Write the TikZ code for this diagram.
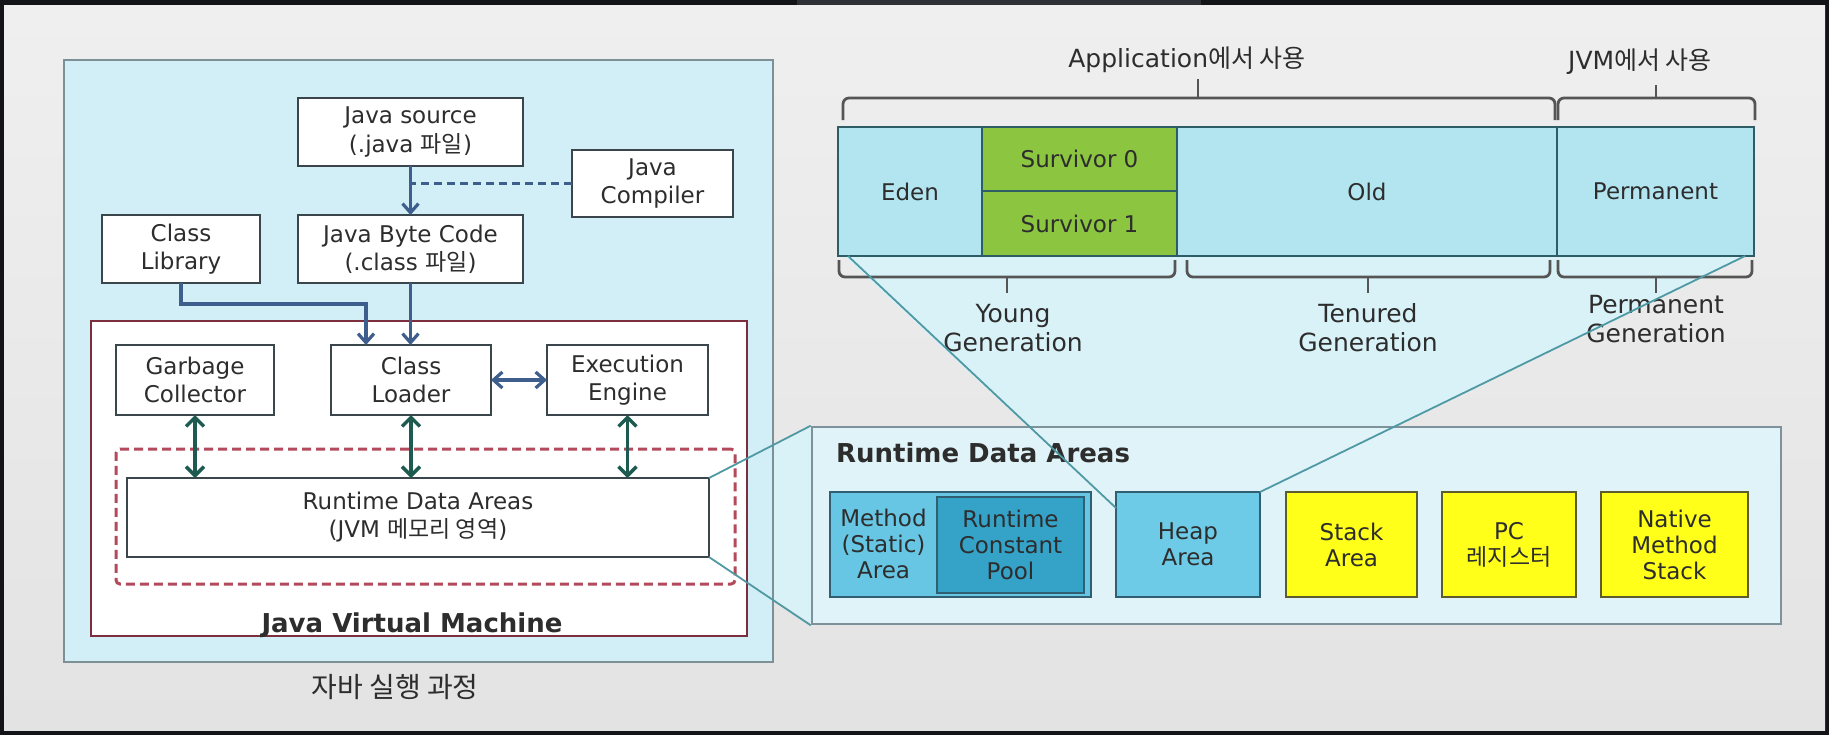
\documentclass[tikz,border=0pt]{standalone}
\usepackage{fontspec}
\setmainfont{DejaVu Sans}
\newfontfamily\kr{Noto Sans CJK KR}
\usetikzlibrary{arrows.meta,calc}

\definecolor{frame}{HTML}{121418}
\definecolor{topseg}{HTML}{2E3136}
\definecolor{bgtop}{HTML}{EFEFEF}
\definecolor{bgbot}{HTML}{E3E3E3}
\definecolor{outerf}{HTML}{D2EFF7}
\definecolor{outerb}{HTML}{7D9096}
\definecolor{boxb}{HTML}{3B464C}
\definecolor{txt}{HTML}{2D2D2D}
\definecolor{jvmb}{HTML}{7C2E3C}
\definecolor{dashr}{HTML}{B34A5C}
\definecolor{arrb}{HTML}{3E5E8E}
\definecolor{arrt}{HTML}{1D5A50}
\definecolor{cyanc}{HTML}{B3E5F1}
\definecolor{greenc}{HTML}{8CC53F}
\definecolor{barb}{HTML}{2E5D66}
\definecolor{funf}{HTML}{D9F2F8}
\definecolor{funl}{HTML}{4F99A4}
\definecolor{rdabf}{HTML}{E0F3F8}
\definecolor{rdabb}{HTML}{7E9399}
\definecolor{methodf}{HTML}{66C6E3}
\definecolor{rcpf}{HTML}{35A2C8}
\definecolor{heapf}{HTML}{6ECBE7}
\definecolor{lbb}{HTML}{2F5F70}
\definecolor{yel}{HTML}{FFFF1A}
\definecolor{yelb}{HTML}{5C5C2E}
\definecolor{bracec}{HTML}{555555}

\newcommand\mybox[7]{%
  \pgfmathsetmacro\mbw{(#4-#2)*0.5}%
  \pgfmathsetmacro\mbh{(#5-#3)*0.5}%
  \node[#6, minimum width=\mbw pt, minimum height=\mbh pt] (#1) at ({(#2+#4)/2},{(#3+#5)/2}) {#7};%
}

\tikzset{
  lbl/.style={font=\fontsize{11.5}{14}\selectfont, text=txt, align=center, inner sep=0pt, outer sep=0pt},
  lowlbl/.style={font=\fontsize{11.5}{13}\selectfont, text=txt, align=center, inner sep=0pt, outer sep=0pt},
  biglbl/.style={font=\fontsize{12.5}{14.5}\selectfont, text=txt, align=center, inner sep=0pt},
  wbox/.style={lbl, draw=boxb, line width=1.3pt, fill=white},
  barcell/.style={lbl, draw=barb, line width=1.3pt, fill=cyanc},
  greencell/.style={lbl, draw=barb, line width=1.3pt, fill=greenc},
  ybox/.style={lowlbl, draw=yelb, line width=1.3pt, fill=yel},
  barr/.style={draw=arrb, line width=1.6pt, -{Straight Barb[length=4.5pt,width=8pt]}},
  barr2/.style={draw=arrb, line width=1.6pt, {Straight Barb[length=4.5pt,width=8pt]}-{Straight Barb[length=4.5pt,width=8pt]}},
  tarr/.style={draw=arrt, line width=1.7pt, {Straight Barb[length=4.5pt,width=9pt]}-{Straight Barb[length=4.5pt,width=9pt]}},
  dashc/.style={draw=arrb, line width=1.5pt, dash pattern=on 4pt off 2.5pt},
  bracel/.style={draw=bracec, line width=1.4pt, rounded corners=3pt},
  funline/.style={draw=funl, line width=0.9pt},
}

\begin{document}
\begin{tikzpicture}[x=0.5pt,y=-0.5pt]
\useasboundingbox (0,0) rectangle (1829,735);
% screen frame and background
\fill[frame] (0,0) rectangle (1829,735);
\fill[topseg] (797,0) rectangle (1201,5);
\shade[top color=bgtop, middle color=white, bottom color=bgbot] (4,5) rectangle (1825,730);

% funnel fills
\fill[funf] (845,257) -- (1745,257) -- (1262,492) -- (1116,508) -- cycle;
\fill[funf] (709,478) -- (812,427) -- (812,624) -- (709,557) -- cycle;

% ---------- left: Java execution ----------
\mybox{outer}{64}{60}{773}{662}{draw=outerb, line width=1.2pt, fill=outerf}{}
\mybox{jsrc}{298}{98}{523}{166}{wbox}{Java source\\(.java {\kr 파일})}
\mybox{jcomp}{572}{150}{733}{217}{wbox}{Java\\Compiler}
\mybox{clib}{102}{215}{260}{283}{wbox}{Class\\Library}
\mybox{jbc}{298}{215}{523}{283}{wbox}{Java Byte Code\\(.class {\kr 파일})}
\mybox{jvm}{91}{321}{747}{636}{draw=jvmb, line width=1pt, fill=white}{}
\mybox{gc}{116}{345}{274}{415}{wbox}{Garbage\\Collector}
\mybox{cl}{331}{345}{491}{415}{wbox}{Class\\Loader}
\mybox{ee}{547}{345}{708}{415}{wbox}{Execution\\Engine}
\mybox{rdad}{116}{449}{735}{584}{draw=dashr, line width=1.5pt, dash pattern=on 4.5pt off 2.5pt, rounded corners=2pt}{}
\mybox{rdain}{127}{478}{709}{557}{wbox}{Runtime Data Areas\\(JVM {\kr 메모리 영역})}
\node[font=\fontsize{13}{15}\selectfont\bfseries, text=txt, anchor=base] (jvmlbl) at (412,632) {Java Virtual Machine};
\node[font=\fontsize{14}{16}\selectfont\kr, text=txt] (cap) at (395,687) {자바 실행 과정};

% left connectors
\draw[barr] (jsrc) -- (jbc);
\draw[dashc] (jcomp.west) -- (jcomp.west -| jsrc.south);
\coordinate (clbend) at (366,304);
\draw[barr] (clib.south) |- (clbend) -- (clbend |- cl.north);
\draw[barr] (jbc.south) -- (jbc.south |- cl.north);
\draw[barr2] (cl.east) -- (ee.west);
\draw[tarr] (gc.south) -- (gc.south |- rdain.north);
\draw[tarr] (cl.south) -- (cl.south |- rdain.north);
\draw[tarr] (ee.south) -- (ee.south |- rdain.north);

% ---------- right: heap ----------
\node[biglbl] (applbl) at (1187,60) {Application{\kr 에서 사용}};
\node[biglbl] (jvmuse) at (1640,62) {JVM{\kr 에서 사용}};
\draw[bracel] (843,120) -- (843,98) -- (1555,98) -- (1555,120);
\draw[bracel] (1198,98) -- (1198,79);
\draw[bracel] (1558,120) -- (1558,98) -- (1755,98) -- (1755,120);
\draw[bracel] (1656,98) -- (1656,85);

\mybox{eden}{838}{127}{982}{256}{barcell}{Eden}
\mybox{sv0}{982}{127}{1177}{191}{greencell}{Survivor 0}
\mybox{sv1}{982}{191}{1177}{256}{greencell}{Survivor 1}
\mybox{old}{1177}{127}{1557}{256}{barcell}{Old}
\mybox{perm}{1557}{127}{1754}{256}{barcell}{Permanent}

\draw[bracel] (839,260) -- (839,277) -- (1175,277) -- (1175,260);
\draw[bracel] (1007,277) -- (1007,293);
\draw[bracel] (1187,260) -- (1187,277) -- (1550,277) -- (1550,260);
\draw[bracel] (1368,277) -- (1368,293);
\draw[bracel] (1558,260) -- (1558,277) -- (1752,277) -- (1752,260);
\draw[bracel] (1656,277) -- (1656,293);

\node[biglbl] (younglbl) at (1013,328) {Young\\Generation};
\node[biglbl] (tenlbl) at (1368,328) {Tenured\\Generation};
\node[biglbl] (permlbl) at (1656,319) {Permanent\\Generation};

% ---------- right: runtime data areas ----------
\mybox{rdabig}{812}{427}{1781}{624}{draw=rdabb, line width=1.3pt, fill=rdabf}{}
\node[font=\fontsize{13}{15}\selectfont\bfseries, text=txt, anchor=base west] (rdatitle) at (829,462) {Runtime Data Areas};
\mybox{meth}{830}{492}{1091}{597}{draw=lbb, line width=1.3pt, fill=methodf}{}
\mybox{rcp}{937}{497}{1084}{593}{lowlbl, draw=lbb, line width=1pt, fill=rcpf}{Runtime\\Constant\\Pool}
\node[lowlbl] (methtxt) at (883.5,544) {Method\\(Static)\\Area};
\mybox{heap}{1116}{492}{1260}{597}{lowlbl, draw=lbb, line width=1.3pt, fill=heapf}{Heap\\Area}
\mybox{stack}{1286}{492}{1417}{597}{ybox}{Stack\\Area}
\mybox{pc}{1442}{492}{1576}{597}{ybox}{PC\\{\kr 레지스터}}
\mybox{nms}{1601}{492}{1748}{597}{ybox}{Native\\Method\\Stack}

% funnel connectors
\draw[funline] ($(eden.south west)+(10,0)$) -- ($(heap.north west)+(0,16)$);
\draw[funline] ($(perm.south east)+(-9,0)$) -- (heap.north east);
\draw[funline] (rdain.north east) -- (rdabig.north west);
\draw[funline] (rdain.south east) -- (rdabig.south west);
\end{tikzpicture}
\end{document}
